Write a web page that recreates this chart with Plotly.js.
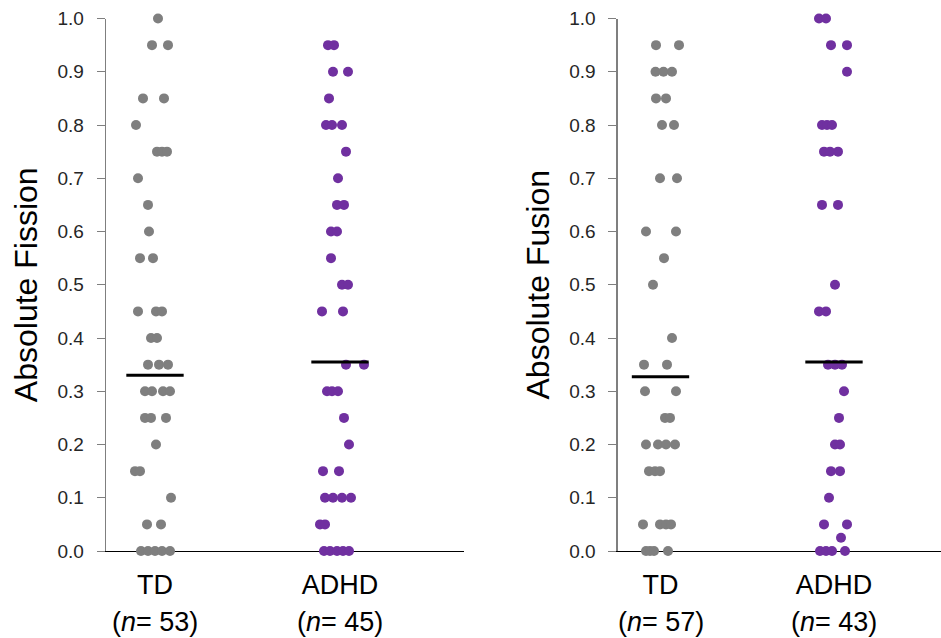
<!DOCTYPE html>
<html>
<head>
<meta charset="utf-8">
<script src="https://cdn.plot.ly/plotly-3.0.1.min.js"></script>
<style>html,body{margin:0;padding:0;background:#fff}#chart{width:941px;height:638px}</style>
</head>
<body>
<div id="chart"></div>
<script>
// ---------- data ----------
const groups = ["TD", "ADHD"];
const fissionN = [53, 45];
const fusionN = [57, 43];

const fissionTD = [1.0, 0.95,0.95, 0.85,0.85, 0.8, 0.75,0.75,0.75, 0.7, 0.65, 0.6, 0.55,0.55,
  0.45,0.45,0.45, 0.4,0.4, 0.35,0.35,0.35, 0.3,0.3,0.3,0.3, 0.25,0.25,0.25, 0.2, 0.15,0.15,
  0.1, 0.05,0.05, 0,0,0,0,0];
const fissionADHD = [0.95,0.95, 0.9,0.9, 0.85, 0.8,0.8,0.8, 0.75, 0.7, 0.65,0.65, 0.6,0.6, 0.55,
  0.5,0.5, 0.45,0.45, 0.35,0.35, 0.3,0.3,0.3, 0.25, 0.2, 0.15,0.15, 0.1,0.1,0.1,0.1,
  0.05,0.05, 0,0,0,0,0];
const fusionTD = [0.95,0.95, 0.9,0.9,0.9, 0.85,0.85, 0.8,0.8, 0.7,0.7, 0.6,0.6, 0.55, 0.5, 0.4,
  0.35,0.35, 0.3,0.3, 0.25,0.25, 0.2,0.2,0.2,0.2, 0.15,0.15,0.15, 0.05,0.05,0.05,0.05,
  0,0,0,0];
const fusionADHD = [1.0,1.0, 0.95,0.95, 0.9, 0.8,0.8,0.8, 0.75,0.75,0.75, 0.65,0.65, 0.5,
  0.45,0.45, 0.35,0.35,0.35, 0.3, 0.25, 0.2,0.2, 0.15,0.15, 0.1, 0.05,0.05, 0.025,
  0,0,0,0];

const fissionMeans = [0.33, 0.355];
const fusionMeans = [0.327, 0.355];

// horizontal jitter of each dot (pixels from the group centre)
const jitFissionTD = [3, -3,13, -12,9, -19, 2,7,12, -17, -7, -6, -15,-2, -17,1,7, -4,2, -7,4,13,
  -10,-3,8,15, -10,-4,11, 1, -20,-15, 16, -8,6, -14,-7,0,7,15];
const jitFissionADHD = [-12,-6, -7,8, -11, -14,-8,2, 6, -2, -3,4, -9,-3, -9, 2,8, -18,3, 6,24,
  -13,-8,-2, 4, 9, -17,-1, -15,-7,2,11, -20,-15, -16,-10,-3,3,9];
const jitFusionTD = [-4.5,18.5, -5,3,11.5, -4.5,5.5, 1.5,13.5, -0.5,16.5, -14.5,15.5, 3.5, -7.5,
  11.5, -16.5,6.5, -15.5,15.5, 4.5,9.5, -14.5,-2.5,5.5,14.5, -11.5,-5.5,-0.5,
  -17.5,-0.5,5.5,10.5, -14.5,-10.5,-6.5,7.5];
const jitFusionADHD = [-15,-8, -3,13, 13, -12,-7,-2, -10,-4,4, -12,4, 1, -15,-8, -6,1,8, 10, 5,
  1,6, -3,6, -5, -10,13, 7, -14,-8,-2,11];

// ---------- styling ----------
const GRAY = "#7F7F7F", PURPLE = "#7030A0";
const FONT = "Liberation Sans, Arial, sans-serif";
const pxPerUnitL = 185, pxPerUnitR = 173.5;
const meanHalf = 0.155;

function dots(vals, jit, g, pxu, color, xa, ya) {
  return {
    type: "scatter", mode: "markers", xaxis: xa, yaxis: ya, cliponaxis: false,
    x: vals.map((v, i) => (g + 1) + jit[i] / pxu), y: vals,
    marker: {size: 10, color: color, line: {width: 0}}, hoverinfo: "y", showlegend: false
  };
}
function meanLine(m, g, xa, ya, half) {
  return {
    type: "scatter", mode: "lines", xaxis: xa, yaxis: ya, cliponaxis: false,
    x: [g + 1 - half, g + 1 + half], y: [m, m],
    line: {color: "#000", width: 3}, hoverinfo: "skip", showlegend: false
  };
}

const traces = [
  dots(fissionTD, jitFissionTD, 0, pxPerUnitL, GRAY, "x", "y"),
  dots(fissionADHD, jitFissionADHD, 1, pxPerUnitL, PURPLE, "x", "y"),
  dots(fusionTD, jitFusionTD, 0, pxPerUnitR, GRAY, "x2", "y2"),
  dots(fusionADHD, jitFusionADHD, 1, pxPerUnitR, PURPLE, "x2", "y2"),
  meanLine(fissionMeans[0], 0, "x", "y", meanHalf),
  meanLine(fissionMeans[1], 1, "x", "y", meanHalf),
  meanLine(fusionMeans[0], 0, "x2", "y2", meanHalf * pxPerUnitL / pxPerUnitR),
  meanLine(fusionMeans[1], 1, "x2", "y2", meanHalf * pxPerUnitL / pxPerUnitR)
];

const yDomain = [1 - 551 / 638, 1 - 18.5 / 638];

function xAxis(domain, range, anchor) {
  return {
    domain: domain, range: range, anchor: anchor,
    showline: true, linecolor: "#000", linewidth: 1.3, layer: "below traces",
    showgrid: false, zeroline: false, ticks: "",
    tickvals: [1, 2], ticktext: groups,
    tickfont: {family: FONT, size: 27, color: "#000"}, ticklabelstandoff: 9
  };
}
function yAxis(domain, anchor, title) {
  return {
    domain: domain, range: [0, 1], anchor: anchor,
    showline: true, linecolor: "#7F7F7F", linewidth: 1.3, layer: "below traces",
    showgrid: false, zeroline: false,
    tickmode: "linear", tick0: 0, dtick: 0.1, tickformat: ".1f",
    ticks: "outside", ticklen: 8, tickcolor: "#7F7F7F", tickwidth: 1,
    tickfont: {family: FONT, size: 19, color: "#262626"}, ticklabelstandoff: 9,
    title: {text: title, font: {family: FONT, size: 32, color: "#000"}, standoff: 10}
  };
}

const nAnn = [];
fissionN.forEach((n, i) => nAnn.push({xref: "x", yref: "paper", x: i + 1, y: 1 - 622 / 638,
  text: "(<i>n</i>= " + n + ")", showarrow: false, yanchor: "middle",
  font: {family: FONT, size: 27, color: "#000"}}));
fusionN.forEach((n, i) => nAnn.push({xref: "x2", yref: "paper", x: i + 1, y: 1 - 622 / 638,
  text: "(<i>n</i>= " + n + ")", showarrow: false, yanchor: "middle",
  font: {family: FONT, size: 27, color: "#000"}}));

const layout = {
  width: 941, height: 638,
  margin: {l: 0, r: 0, t: 0, b: 0},
  paper_bgcolor: "#fff", plot_bgcolor: "#fff",
  showlegend: false,
  xaxis: xAxis([106 / 941, 464 / 941], [1 - 49 / pxPerUnitL, 2 + 124 / pxPerUnitL], "y"),
  yaxis: yAxis(yDomain, "x", "Absolute Fission"),
  xaxis2: xAxis([617.7 / 941, 1], [1 - 42.8 / pxPerUnitR, 2 + 107 / pxPerUnitR], "y2"),
  yaxis2: yAxis(yDomain, "x2", "Absolute Fusion"),
  annotations: nAnn
};

Plotly.newPlot("chart", traces, layout, {displayModeBar: false, staticPlot: true});
</script>
</body>
</html>
